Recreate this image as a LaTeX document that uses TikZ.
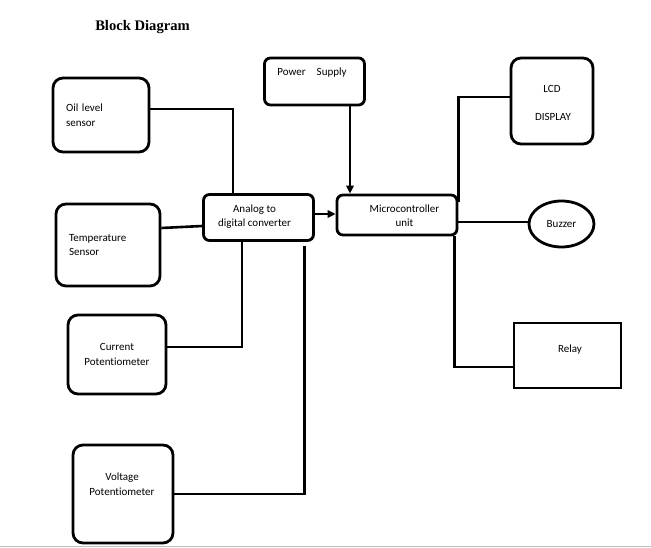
\documentclass[tikz,border=0pt]{standalone}
\usepackage{fontspec}
\setmainfont{Carlito}[Ligatures=NoCommon]
\newfontfamily\titlefont{Liberation Serif}
\usetikzlibrary{arrows.meta,shapes.geometric}
\begin{document}
\begin{tikzpicture}[x=1pt,y=-1pt,
 rbox/.style={draw,line width=2.8pt,rounded corners=10pt,inner sep=0pt},
 sbox/.style={draw,line width=2.8pt,rounded corners=6pt,inner sep=0pt},
 wire/.style={line width=2.6pt},
 arr/.style={line width=2.6pt,-{Triangle[length=8pt,width=7.5pt]}},
 txt/.style={font=\fontsize{11}{14.5}\selectfont,inner sep=0pt,align=center}]
\useasboundingbox (0,0) rectangle (651,548);
\fill[white] (0,0) rectangle (651,548);
% title
\node[font=\titlefont\bfseries\fontsize{14.6}{16}\selectfont,inner sep=0pt] (title) at (142.5,27) {Block Diagram};
% boxes
\node[rbox,minimum width=96pt,minimum height=74pt,txt,text width=70pt,align=left] (oil) at (101,115) {Oil level\\sensor};
\node[rbox,minimum width=104pt,minimum height=82pt,txt,text width=78pt,align=left] (temp) at (108,245) {Temperature\\Sensor};
\node[rbox,minimum width=98pt,minimum height=79pt,txt] (cur) at (117,354.5) {Current\\Potentiometer};
\node[rbox,minimum width=100pt,minimum height=98pt] (volt) at (123,494) {};
\node[txt] (volttxt) at (122,484) {Voltage\\Potentiometer};
\node[sbox,minimum width=100pt,minimum height=47pt] (ps) at (314.5,81.5) {};
\node[txt] (pstxt) at (312,73) {Power\quad Supply};
\node[sbox,minimum width=110pt,minimum height=46pt] (adc) at (258.5,217.5) {};
\node[txt] (adctxt) at (254.5,216.5) {Analog to\\digital converter};
\node[sbox,minimum width=120pt,minimum height=40pt] (mcu) at (397,215) {};
\node[txt] (mcutxt) at (404.5,215.5) {Microcontroller\\unit};
\node[rbox,minimum width=82pt,minimum height=86pt] (lcd) at (552,101) {};
\node[txt] (lcdtxt1) at (552,89) {LCD};
\node[txt] (lcdtxt2) at (553,117) {DISPLAY};
\node[draw,ellipse,line width=2.8pt,minimum width=65pt,minimum height=46pt,inner sep=0pt,txt] (buzz) at (561.5,224) {Buzzer};
\node[draw,line width=2.8pt,minimum width=107pt,minimum height=65pt,inner sep=0pt] (relay) at (567.5,355.5) {};
\node[txt] (relaytxt) at (570,350) {Relay};
% connectors
\draw[wire] ([yshift=6pt]oil.east) -| ([xshift=-25.5pt]adc.north);
\draw[wire] ([yshift=17pt]temp.east) -- ([yshift=-8.5pt]adc.west);
\draw[wire] ([xshift=-16.5pt]adc.south) |- ([yshift=7.5pt]cur.east);
\coordinate (vtop) at ([xshift=46pt,yshift=-4pt]adc.south);
\draw[wire] (vtop) |- (volt.east);
\draw[arr] ([yshift=3.5pt]adc.east) -- ([yshift=3.5pt]adc.east -| mcu.west);
\draw[arr] ([xshift=35.5pt]ps.south) -- ([xshift=35.5pt]ps.south |- mcu.north);
\draw[wire] ([yshift=-8pt]mcu.north east) |- ([yshift=4pt]lcd.west);
\draw[wire] ([yshift=-7pt]mcu.east) -- ([yshift=-7pt]mcu.east -| buzz.west);
\draw[wire] ([xshift=-4pt]mcu.south east) |- ([yshift=-11.5pt]relay.west);
% page edge
\draw[black!25,line width=1pt] (0,546.5) -- (651,546.5);
\end{tikzpicture}
\end{document}
